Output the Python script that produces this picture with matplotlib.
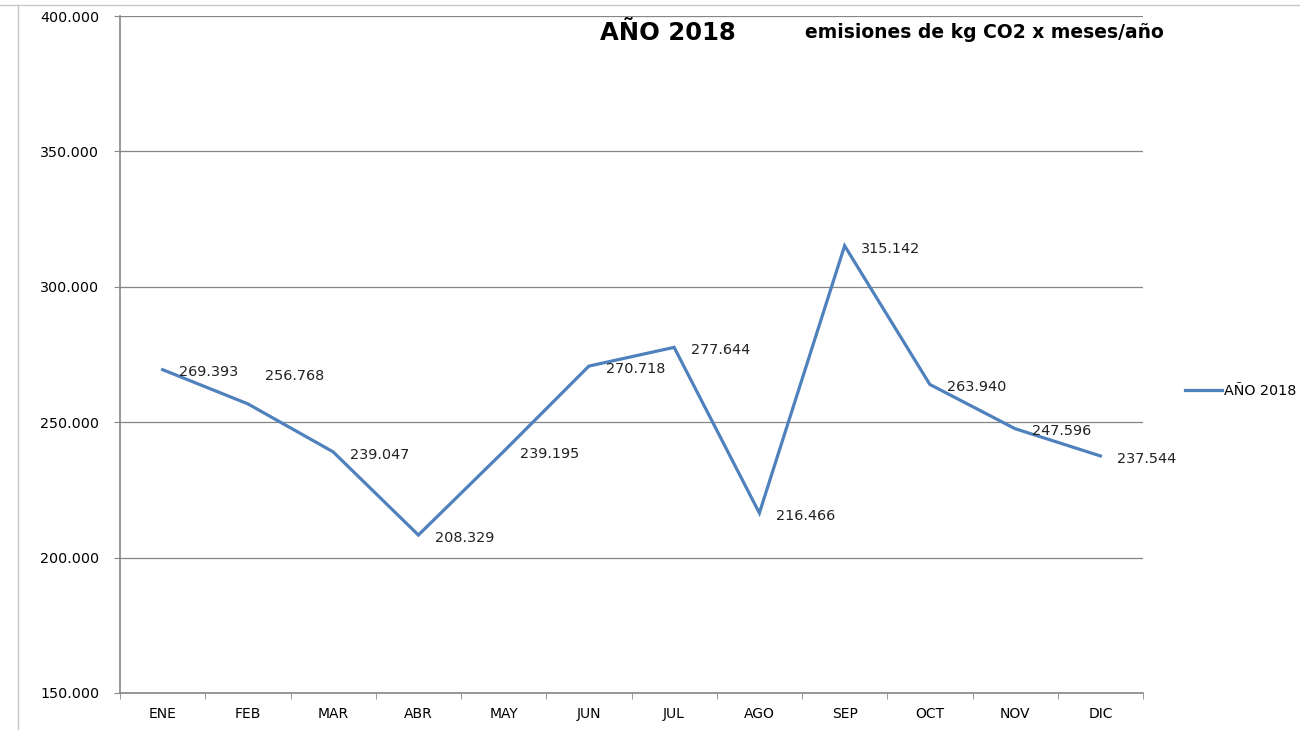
import numpy as np
import matplotlib.pyplot as plt
from matplotlib.ticker import FuncFormatter, FixedLocator

meses = ['ENE', 'FEB', 'MAR', 'ABR', 'MAY', 'JUN', 'JUL', 'AGO', 'SEP', 'OCT', 'NOV', 'DIC']
emisiones = [269393, 256768, 239047, 208329, 239195, 270718, 277644, 216466, 315142, 263940, 247596, 237544]
serie = 'AÑO 2018'

azul = '#4F81BD'
gris = '#868686'

def miles(v, pos=None):
    return f'{v:,.0f}'.replace(',', '.')

fig = plt.figure(figsize=(13, 7.3), dpi=100)
ax = fig.add_axes([120/1300, 37/730, 1023/1300, 677/730])

x = np.arange(len(meses))
ax.plot(x, emisiones, color=azul, lw=2.3, solid_joinstyle='miter', label=serie)

for i, v in enumerate(emisiones):
    dy = -2
    if meses[i] == 'FEB':
        dy = 20  # etiqueta movida a mano
    ax.annotate(miles(v), (i, v), xytext=(12, dy), textcoords='offset points',
                ha='left', va='center', fontsize=10.4, color='#222222')

ax.set_xlim(-0.5, 11.5)
ax.set_ylim(150000, 400000)
ax.set_yticks(np.arange(150000, 400001, 50000))
ax.yaxis.set_major_formatter(FuncFormatter(miles))
ax.set_xticks(x)
ax.set_xticklabels(meses)
ax.xaxis.set_minor_locator(FixedLocator(np.arange(-0.5, 12, 1)))
ax.tick_params(axis='x', which='major', length=0, pad=10, labelsize=10)
ax.tick_params(axis='x', which='minor', length=4, color=gris, direction='out')
ax.tick_params(axis='y', length=4, color=gris, pad=11, labelsize=10.3)
ax.grid(axis='y', color=gris, lw=0.9)
ax.set_axisbelow(True)
for s in ['top', 'right']:
    ax.spines[s].set_visible(False)
for s in ['left', 'bottom']:
    ax.spines[s].set_color(gris)
    ax.spines[s].set_linewidth(1.2)

# borde de la hoja de cálculo
fig.add_artist(plt.Line2D([0, 1], [1 - 5/730, 1 - 5/730], color='#c8c8c8', lw=1))
fig.add_artist(plt.Line2D([18/1300, 18/1300], [0, 1 - 5/730], color='#c8c8c8', lw=1))

fig.text(600/1300, 1 - 33/730, 'AÑO 2018', fontsize=17.5, fontweight='bold',
         va='center', ha='left')
fig.text(805/1300, 1 - 33/730, 'emisiones de kg CO2 x meses/año', fontsize=13.5,
         fontweight='bold', va='center', ha='left')

fig.legend(loc='center left', bbox_to_anchor=(1172/1300, 1 - 391/730), frameon=False,
           fontsize=10.3, handlelength=2.6, handletextpad=0.1)

fig.savefig('out.png', dpi=100)
